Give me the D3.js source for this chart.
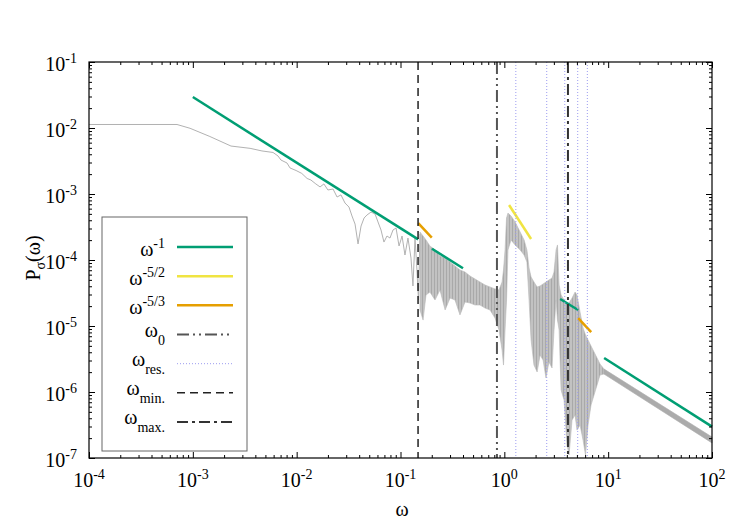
<!DOCTYPE html>
<html lang="en">
<head>
<meta charset="UTF-8">
<title>Power spectrum P_sigma(omega)</title>
<script src="https://d3js.org/d3.v7.min.js"></script>
<style>
body,html{
	margin: 0;
	padding: 0;
	background: #fff;
}
svg{ display: block; }
text{
	font-family: "Liberation Serif", "Times New Roman", serif;
	fill: #000;
}
.tickLabel{ font-size: 20px; }
.small{ font-size: 14px; }
.axis path{ stroke: none; }
.axis line{ stroke: #000; stroke-width: 1; }
.border{ fill: none; stroke: #000; stroke-width: 1.2; }
.spectrum{ fill: none; stroke: #b2b2b2; stroke-width: 1; }
.band{ fill: url(#osc); stroke: #b8b8b8; stroke-width: 0.6; }
.tail{ fill: #ababab; stroke: #ababab; stroke-width: 0.6; }
.fit{ fill: none; stroke-width: 2.5; }
.legendBox{ fill: none; stroke: #666; stroke-width: 1; }
</style>
</head>
<body>
<script>
// ---- data ----
var xTicks = [1e-4, 1e-3, 1e-2, 1e-1, 1e0, 1e1, 1e2];
var xTickExp = ["-4", "-3", "-2", "-1", "0", "1", "2"];
var yTicks = [1e-7, 1e-6, 1e-5, 1e-4, 1e-3, 1e-2, 1e-1];
var yTickExp = ["-7", "-6", "-5", "-4", "-3", "-2", "-1"];

// low frequency part of the spectrum (single line)  [omega, P]
var spectrumLine = [
	[1e-4, 1.13e-2], [7.04e-4, 1.13e-2], [9.4e-4, 9.9e-3], [1.46e-3, 7.43e-3],
	[2.33e-3, 5.33e-3], [3.56e-3, 4.92e-3], [4.63e-3, 4.49e-3], [5.92e-3, 4.26e-3],
	[6.61e-3, 3.77e-3], [7.06e-3, 3.27e-3], [8.07e-3, 2.95e-3], [8.63e-3, 2.48e-3],
	[9.87e-3, 2.27e-3], [1.12e-2, 2.05e-3], [1.26e-2, 1.72e-3], [1.37e-2, 1.63e-3],
	[1.53e-2, 1.42e-3], [1.68e-2, 1.28e-3], [1.83e-2, 1.42e-3], [2.0e-2, 1.15e-3],
	[2.24e-2, 1.19e-3], [2.45e-2, 9.0e-4], [2.67e-2, 9.7e-4], [2.92e-2, 7.3e-4],
	[3.19e-2, 6.35e-4], [3.41e-2, 4.65e-4], [3.65e-2, 3.5e-4], [3.9e-2, 1.75e-4],
	[4.17e-2, 3.27e-4], [4.46e-2, 4.33e-4], [4.75e-2, 4.8e-4], [5.2e-2, 5.33e-4],
	[5.69e-2, 4.97e-4], [6.07e-2, 3.77e-4], [6.49e-2, 2.85e-4], [6.93e-2, 1.87e-4],
	[7.41e-2, 2.31e-4], [7.92e-2, 2.15e-4], [8.47e-2, 2.85e-4], [9.06e-2, 3.05e-4],
	[9.68e-2, 1.63e-4], [0.1035, 2.31e-4], [0.1104, 1.19e-4], [0.118, 2.15e-4],
	[0.1262, 1.07e-4], [0.1318, 4.04e-5], [0.138, 2.15e-4], [0.144, 7.05e-5],
	[0.149, 2.48e-5], [0.154, 2.48e-4]
];

// high frequency part: dense oscillations, drawn as an envelope
var bandOmega = [0.154, 0.165, 0.176, 0.192, 0.215, 0.240, 0.269, 0.300, 0.335, 0.374,
	0.418, 0.467, 0.522, 0.583, 0.652, 0.728, 0.813, 0.889, 0.951, 0.982,
	1.016, 1.05, 1.084, 1.16, 1.27, 1.42, 1.55, 1.65, 1.73, 1.81,
	1.93, 2.07, 2.21, 2.36, 2.52, 2.69, 2.88, 3.01, 3.15, 3.25,
	3.37, 3.52, 3.76, 4.02, 4.20, 4.49, 4.80, 5.01, 5.36, 5.73,
	6.05, 6.40, 6.84, 7.31, 7.82, 8.35, 9.12, 100];
var bandUpper = [2.65e-4, 2.31e-4, 2.01e-4, 1.63e-4, 1.42e-4, 1.15e-4, 1.07e-4, 9.33e-5, 8.11e-5, 7.05e-5,
	6.58e-5, 5.73e-5, 5.15e-5, 4.64e-5, 4.18e-5, 3.90e-5, 3.64e-5, 3.51e-5, 4.64e-5, 7.05e-5,
	1.42e-4, 4.33e-4, 5.15e-4, 4.64e-4, 3.77e-4, 2.65e-4, 2.01e-4, 1.42e-4, 7.57e-5, 5.52e-5,
	4.64e-5, 3.90e-5, 4.04e-5, 4.33e-5, 4.64e-5, 4.97e-5, 5.33e-5, 6.58e-5, 1.42e-4, 1.69e-4,
	4.18e-5, 2.95e-5, 2.48e-5, 2.23e-5, 2.23e-5, 2.65e-5, 3.27e-5, 2.95e-5, 1.63e-5, 9.33e-6,
	7.31e-6, 6.14e-6, 4.97e-6, 4.04e-6, 3.27e-6, 2.65e-6, 2.23e-6, 2.08e-7];
var bandLower = [1.75e-5, 1.23e-5, 2.95e-5, 3.27e-5, 2.48e-5, 3.51e-5, 1.75e-5, 2.65e-5, 2.48e-5, 1.47e-5,
	2.31e-5, 2.23e-5, 2.08e-5, 2.08e-5, 1.87e-5, 1.75e-5, 1.32e-5, 8.7e-6, 4.33e-6, 2.56e-6,
	8.7e-6, 2.48e-5, 1.42e-4, 2.01e-4, 1.69e-4, 1.42e-4, 1.19e-4, 9.33e-5, 2.48e-5, 6.14e-6,
	2.56e-6, 2.01e-6, 3.64e-6, 3.05e-6, 1.63e-6, 2.85e-6, 2.31e-6, 8.7e-6, 2.48e-5, 1.23e-5,
	8.7e-6, 1.07e-6, 7.57e-7, 1.57e-7, 1.11e-7, 3.77e-7, 4.49e-7, 2.65e-7, 3.16e-7, 1.87e-7,
	1.11e-7, 3.16e-7, 6.35e-7, 9.0e-7, 1.28e-6, 1.81e-6, 1.87e-6, 1.69e-7];

// power-law guide segments  [omega1, P1, omega2, P2]
var slopeOne = [[1e-3, 2.95e-2, 0.148, 2.05e-4], [0.201, 1.48e-4, 0.40, 7.5e-5],
	[3.45, 2.57e-5, 5.14, 1.75e-5], [9.14, 3.27e-6, 100, 2.99e-7]];
var slopeFiveHalves = [[1.11, 6.8e-4, 1.81, 2.08e-4]];
var slopeFiveThirds = [[0.148, 3.63e-4, 0.20, 2.19e-4], [5.14, 1.32e-5, 6.86, 8.1e-6]];

// characteristic frequencies
var omega0 = [0.849];
var omegaRes = [1.29, 2.56, 3.82, 5.09, 6.30];
var omegaMin = [0.1476];
var omegaMax = [4.10];

var legendLabels = [
	{base: "ω", sup: "-1"},
	{base: "ω", sup: "-5/2"},
	{base: "ω", sup: "-5/3"},
	{base: "ω", sub: "0"},
	{base: "ω", sub: "res."},
	{base: "ω", sub: "min."},
	{base: "ω", sub: "max."}
];

// ---- styles ----
var styles = [
	{stroke: "#009e73", width: 2.5, dash: null},
	{stroke: "#f0e442", width: 2.5, dash: null},
	{stroke: "#e69f00", width: 2.5, dash: null},
	{stroke: "#555555", width: 2, dash: "12,4,2,4,2,4"},
	{stroke: "#9c9cf0", width: 1, dash: "1,2"},
	{stroke: "#222222", width: 1.5, dash: "8,5"},
	{stroke: "#333333", width: 2, dash: "11,4,3,4"}
];

var w = 750, h = 525;
var margin = {top: 62, left: 89, right: 38, bottom: 67};
var width = w - margin.left - margin.right;
var height = h - margin.top - margin.bottom;

var svg = d3.select("body").append("svg")
	.attr("width", w)
	.attr("height", h);

// fine vertical texture for the densely oscillating part
var pat = svg.append("defs").append("pattern")
	.attr("id", "osc")
	.attr("patternUnits", "userSpaceOnUse")
	.attr("width", 3)
	.attr("height", 8);
pat.append("rect").attr("width", 3).attr("height", 8).attr("fill", "#c2c2c2");
pat.append("rect").attr("width", 1).attr("height", 8).attr("fill", "#a9a9a9");

var chart = svg.append("g")
	.attr("transform", "translate(" + margin.left + "," + margin.top + ")");

var x = d3.scaleLog().domain([1e-4, 1e2]).range([0, width]);
var y = d3.scaleLog().domain([1e-7, 1e-1]).range([height, 0]);

function minorOf(lo, hi){
	var out = [];
	for (var e = lo; e < hi; e++){
		for (var m = 2; m <= 9; m++) out.push(m * Math.pow(10, e));
	}
	return out;
}
var xMinor = minorOf(-4, 2);
var yMinor = minorOf(-7, -1);

// spectrum
var idx = d3.range(bandOmega.length);
var area = d3.area()
	.x(function(i){ return x(bandOmega[i]); })
	.y0(function(i){ return y(bandLower[i]); })
	.y1(function(i){ return y(bandUpper[i]); });

var last = idx.length - 1;
chart.append("path")
	.datum(idx.slice(0, last))
	.attr("class", "band")
	.attr("d", area);

// the tail beyond the last resonance collapses into a narrow strip
chart.append("path")
	.datum(idx.slice(last - 1))
	.attr("class", "tail")
	.attr("d", area);

var line = d3.line()
	.x(function(d){ return x(d[0]); })
	.y(function(d){ return y(d[1]); });

chart.append("path")
	.datum(spectrumLine)
	.attr("class", "spectrum")
	.attr("d", line);

// power law fits
function drawSegments(list, st){
	list.forEach(function(s){
		chart.append("path")
			.datum([[s[0], s[1]], [s[2], s[3]]])
			.attr("class", "fit")
			.attr("d", line)
			.style("stroke", st.stroke)
			.style("stroke-width", st.width);
	});
}
drawSegments(slopeOne, styles[0]);
drawSegments(slopeFiveHalves, styles[1]);
drawSegments(slopeFiveThirds, styles[2]);

// vertical lines
function drawVerticals(vals, st){
	chart.selectAll(null)
		.data(vals)
		.enter()
		.append("line")
		.attr("x1", function(d){ return x(d); })
		.attr("x2", function(d){ return x(d); })
		.attr("y1", 0)
		.attr("y2", height)
		.style("stroke", st.stroke)
		.style("stroke-width", st.width)
		.style("stroke-dasharray", st.dash);
}
drawVerticals(omega0, styles[3]);
drawVerticals(omegaRes, styles[4]);
drawVerticals(omegaMin, styles[5]);
drawVerticals(omegaMax, styles[6]);

// axes: ticks pointing inward on all four sides
function addAxis(axisFn, tr, vals, size){
	chart.append("g")
		.attr("class", "axis")
		.attr("transform", tr)
		.call(axisFn.tickValues(vals).tickSizeInner(-size).tickSizeOuter(0).tickFormat(""));
}
addAxis(d3.axisBottom(x), "translate(0," + height + ")", xTicks, 6);
addAxis(d3.axisBottom(x), "translate(0," + height + ")", xMinor, 3);
addAxis(d3.axisTop(x), "translate(0,0)", xTicks, 6);
addAxis(d3.axisTop(x), "translate(0,0)", xMinor, 3);
addAxis(d3.axisLeft(y), "translate(0,0)", yTicks, 6);
addAxis(d3.axisLeft(y), "translate(0,0)", yMinor, 3);
addAxis(d3.axisRight(y), "translate(" + width + ",0)", yTicks, 6);
addAxis(d3.axisRight(y), "translate(" + width + ",0)", yMinor, 3);

chart.append("rect")
	.attr("class", "border")
	.attr("x", 0).attr("y", 0)
	.attr("width", width).attr("height", height);

// tick labels  10^n
var xl = chart.selectAll(".xLabel")
	.data(xTicks)
	.enter()
	.append("text")
	.attr("class", "tickLabel")
	.attr("x", function(d){ return x(d); })
	.attr("y", height + 29)
	.style("text-anchor", "middle");
xl.append("tspan").text("10");
xl.append("tspan").attr("class", "small").attr("dy", -8)
	.text(function(d, i){ return xTickExp[i]; });

var yl = chart.selectAll(".yLabel")
	.data(yTicks)
	.enter()
	.append("text")
	.attr("class", "tickLabel")
	.attr("x", -12)
	.attr("y", function(d){ return y(d) + 9; })
	.style("text-anchor", "end");
yl.append("tspan").text("10");
yl.append("tspan").attr("class", "small").attr("dy", -8)
	.text(function(d, i){ return yTickExp[i]; });

// axis titles
svg.append("text")
	.attr("class", "tickLabel")
	.attr("x", 402)
	.attr("y", 516)
	.style("text-anchor", "middle")
	.text("ω");

var yt = svg.append("text")
	.attr("class", "tickLabel")
	.style("text-anchor", "middle")
	.attr("transform", "translate(40,258) rotate(-90)");
yt.append("tspan").text("P");
yt.append("tspan").attr("class", "small").attr("dy", 5).text("σ");
yt.append("tspan").attr("dy", -5).text("(ω)");

// legend
var legend = svg.append("g").attr("transform", "translate(102,217)");
legend.append("rect")
	.attr("class", "legendBox")
	.attr("width", 145)
	.attr("height", 234);

legendLabels.forEach(function(l, i){
	var cy = 30 + i * 29.17;
	var st = styles[i];
	legend.append("line")
		.attr("x1", 75).attr("x2", 131)
		.attr("y1", cy).attr("y2", cy)
		.style("stroke", st.stroke)
		.style("stroke-width", st.width)
		.style("stroke-dasharray", st.dash);
	var t = legend.append("text")
		.attr("class", "tickLabel")
		.attr("x", 63)
		.style("text-anchor", "end");
	if (l.sup){
		t.attr("y", cy + 9);
		t.append("tspan").text(l.base);
		t.append("tspan").attr("class", "small").attr("dy", -8).text(l.sup);
	} else {
		t.attr("y", cy + 2);
		t.append("tspan").text(l.base);
		t.append("tspan").attr("class", "small").attr("dy", 8).text(l.sub);
	}
});
</script>
</body>
</html>
